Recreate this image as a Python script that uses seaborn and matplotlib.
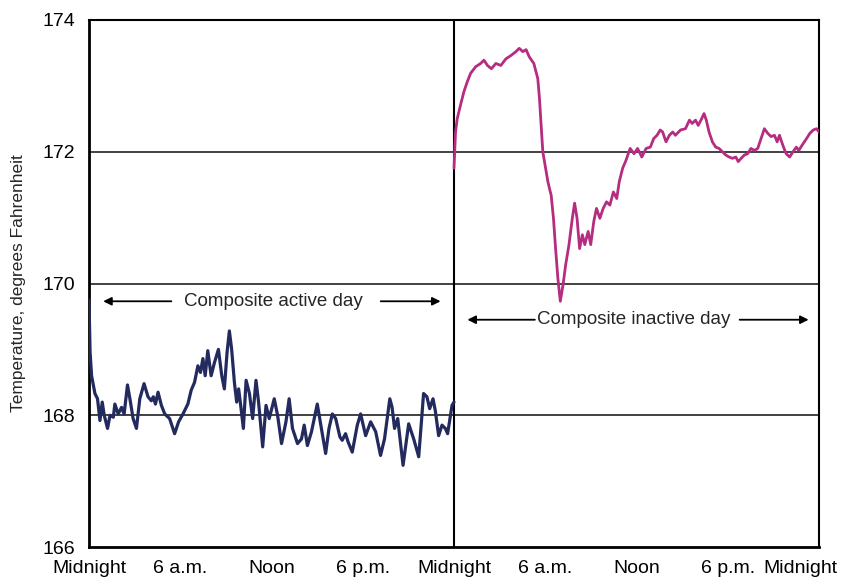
import pandas as pd
import matplotlib
matplotlib.use("Agg")
import matplotlib.pyplot as plt
import matplotlib.transforms as mtransforms
import seaborn as sns

# hours since the first midnight, temperature in deg F
active_hours = [0, 0.07, 0.17, 0.39, 0.56, 0.72, 0.87, 1.0, 1.22, 1.38, 1.6, 1.7, 1.92, 2.14, 2.31,
                2.53, 2.69, 2.9, 3.12, 3.34, 3.62, 3.88, 4.1, 4.23, 4.37, 4.54, 4.76, 4.98, 5.3,
                5.63, 5.89, 6.18, 6.5, 6.72, 6.94, 7.16, 7.33, 7.49, 7.64, 7.81, 8.03, 8.25, 8.51,
                8.73, 8.9, 9.08, 9.23, 9.38, 9.56, 9.71, 9.84, 10.0, 10.15, 10.33, 10.55, 10.76,
                10.98, 11.15, 11.42, 11.64, 11.85, 12.18, 12.4, 12.66, 12.95, 13.16, 13.38, 13.71,
                13.97, 14.15, 14.36, 14.63, 15.01, 15.28, 15.56, 15.78, 16.0, 16.22, 16.5, 16.65,
                16.87, 17.03, 17.31, 17.64, 17.86, 18.19, 18.52, 18.85, 19.17, 19.43, 19.78, 19.93,
                20.09, 20.3, 20.65, 21.02, 21.35, 21.68, 22.0, 22.22, 22.4, 22.62, 22.77, 22.99,
                23.21, 23.43, 23.58, 23.87, 24.0]
active_temp = [169.75, 168.96, 168.6, 168.33, 168.25, 167.92, 168.2, 168.0, 167.8, 168.0, 167.97,
               168.17, 168.02, 168.12, 168.02, 168.46, 168.25, 167.95, 167.8, 168.25, 168.48, 168.28,
               168.22, 168.28, 168.17, 168.35, 168.15, 168.02, 167.95, 167.72, 167.9, 168.02, 168.17,
               168.38, 168.5, 168.75, 168.65, 168.86, 168.6, 168.98, 168.6, 168.8, 169.0, 168.6,
               168.4, 168.96, 169.28, 169.0, 168.5, 168.2, 168.4, 168.1, 167.8, 168.53, 168.33,
               167.95, 168.53, 168.2, 167.52, 168.15, 167.95, 168.25, 168.0, 167.57, 167.9, 168.25,
               167.8, 167.57, 167.64, 167.85, 167.54, 167.75, 168.17, 167.8, 167.42, 167.8, 168.02,
               167.95, 167.67, 167.62, 167.72, 167.6, 167.44, 167.85, 168.02, 167.69, 167.9, 167.75,
               167.39, 167.64, 168.25, 168.12, 167.8, 167.95, 167.24, 167.87, 167.64, 167.37, 168.33,
               168.28, 168.1, 168.25, 168.07, 167.69, 167.85, 167.8, 167.72, 168.15, 168.2]

inactive_hours = [24.0, 24.1, 24.21, 24.43, 24.65, 24.87, 25.09, 25.42, 25.75, 25.97, 26.2, 26.46,
                  26.75, 27.08, 27.41, 27.74, 28.07, 28.29, 28.52, 28.74, 28.95, 29.25, 29.51,
                  29.62, 29.73, 29.84, 30.06, 30.17, 30.28, 30.39, 30.54, 30.68, 30.83, 30.99,
                  31.17, 31.34, 31.56, 31.78, 31.93, 32.09, 32.26, 32.44, 32.6, 32.82, 32.99,
                  33.19, 33.37, 33.59, 33.81, 34.03, 34.25, 34.48, 34.7, 34.87, 35.09, 35.31,
                  35.58, 35.84, 36.07, 36.35, 36.63, 36.91, 37.13, 37.35, 37.56, 37.72, 37.94,
                  38.16, 38.38, 38.56, 38.89, 39.22, 39.48, 39.66, 39.88, 40.06, 40.28, 40.44,
                  40.59, 40.77, 40.99, 41.21, 41.43, 41.65, 41.87, 42.09, 42.31, 42.53, 42.69,
                  42.88, 43.09, 43.31, 43.52, 43.75, 43.97, 44.19, 44.41, 44.63, 44.85, 45.07,
                  45.25, 45.4, 45.62, 45.84, 46.07, 46.29, 46.51, 46.67, 46.89, 47.18, 47.4,
                  47.62, 47.84, 48.0]
inactive_temp = [171.75, 172.3, 172.5, 172.71, 172.91, 173.06, 173.19, 173.29, 173.34, 173.39,
                 173.31, 173.26, 173.34, 173.31, 173.41, 173.46, 173.52, 173.57, 173.52, 173.55,
                 173.44, 173.34, 173.11, 172.81, 172.4, 172.0, 171.7, 171.55, 171.44, 171.34,
                 170.99, 170.53, 170.08, 169.73, 169.98, 170.28, 170.59, 170.99, 171.22, 170.99,
                 170.53, 170.74, 170.59, 170.79, 170.59, 170.94, 171.14, 170.99, 171.14, 171.24,
                 171.19, 171.39, 171.29, 171.55, 171.75, 171.87, 172.05, 171.97, 172.05, 171.92,
                 172.05, 172.07, 172.2, 172.25, 172.33, 172.3, 172.15, 172.25, 172.3, 172.25,
                 172.33, 172.35, 172.48, 172.43, 172.48, 172.4, 172.5, 172.58, 172.48, 172.3,
                 172.15, 172.07, 172.05, 172.0, 171.95, 171.92, 171.9, 171.92, 171.85, 171.9,
                 171.95, 171.97, 172.05, 172.02, 172.05, 172.2, 172.35, 172.28, 172.23, 172.25,
                 172.15, 172.25, 172.1, 171.97, 171.92, 172.0, 172.07, 172.02, 172.1, 172.2,
                 172.28, 172.33, 172.35, 172.3]

tick_hours = [0, 6, 12, 18, 24, 30, 36, 42, 48]
tick_labels = ["Midnight", "6 a.m.", "Noon", "6 p.m.", "Midnight", "6 a.m.", "Noon", "6 p.m.", "Midnight"]
y_ticks = [166, 168, 170, 172, 174]

sns.set_style("white")
plt.rcParams['font.family'] = ['Liberation Sans', 'DejaVu Sans']

active = pd.DataFrame({"hour": active_hours, "temp": active_temp})
inactive = pd.DataFrame({"hour": inactive_hours, "temp": inactive_temp})

fig = plt.figure(figsize=(8.41, 5.77), dpi=100)
ax = fig.add_axes([89 / 841, 30 / 577, 730 / 841, 527 / 577])

for y in [168, 170, 172]:
    ax.axhline(y, color="#333333", lw=1.3, zorder=1)
ax.axvline(24, color="black", lw=1.5, zorder=1)

sns.lineplot(data=active, x="hour", y="temp", color="#222a5e", lw=2.3,
             estimator=None, ax=ax, zorder=3)
sns.lineplot(data=inactive, x="hour", y="temp", color="#b52c80", lw=2.0,
             estimator=None, ax=ax, zorder=3)

ax.set_xlim(0, 48)
ax.set_ylim(166, 174)
ax.set_xticks(tick_hours)
ax.set_xticklabels(tick_labels, fontsize=14)
ax.set_xticks(range(49), minor=True)
ax.set_yticks(y_ticks)
ax.set_yticklabels([str(v) for v in y_ticks], fontsize=14)
ax.tick_params(axis="x", which="major", direction="inout", length=8, width=1, pad=5.5, colors="black")
ax.tick_params(axis="x", which="minor", direction="in", length=5, width=1, colors="black")
ax.tick_params(axis="y", which="major", direction="out", length=4, width=1, pad=6, colors="black")
ax.set_xlabel("")
ax.set_ylabel("Temperature, degrees Fahrenheit", fontsize=12.5, labelpad=12)

# last "Midnight" sits a little left of its tick so it stays on the page
last = ax.get_xticklabels()[-1]
last.set_transform(last.get_transform() + mtransforms.ScaledTranslation(-19 / 100, 0, fig.dpi_scale_trans))

for side in ["left", "bottom"]:
    ax.spines[side].set_linewidth(2)
for side in ["top", "right"]:
    ax.spines[side].set_linewidth(1.5)
for s in ax.spines.values():
    s.set_color("black")

# "Composite active day" and "Composite inactive day" with arrows
arrow = dict(arrowstyle="-|>", color="black", lw=1.3, mutation_scale=12)
ax.text(12.1, 169.73, "Composite active day", ha="center", va="center", fontsize=13.5)
ax.annotate("", xy=(0.75, 169.73), xytext=(5.6, 169.73), arrowprops=arrow)
ax.annotate("", xy=(23.3, 169.73), xytext=(19.0, 169.73), arrowprops=arrow)
ax.text(35.8, 169.45, "Composite inactive day", ha="center", va="center", fontsize=13.5)
ax.annotate("", xy=(24.7, 169.45), xytext=(29.5, 169.45), arrowprops=arrow)
ax.annotate("", xy=(47.5, 169.45), xytext=(42.6, 169.45), arrowprops=arrow)

fig.savefig("out.png", dpi=100)
